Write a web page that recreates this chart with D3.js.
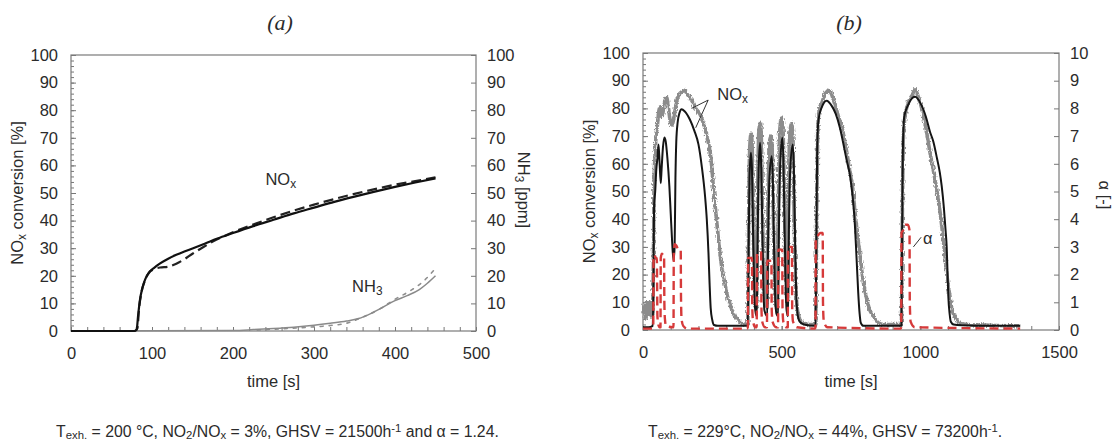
<!DOCTYPE html>
<html>
<head>
<meta charset="utf-8">
<script src="https://cdn.jsdelivr.net/npm/d3@7"></script>
<style>
  html, body { margin: 0; padding: 0; background: #fff; }
  svg { display: block; }
  text { font-family: "Liberation Sans", Arial, Helvetica, sans-serif; fill: #2b2b2b; }
  .tick line { stroke: #777; }
  .domain { display: none; }
</style>
</head>
<body>
<script>
// ---------- Panel (a): NOx conversion and NH3 slip, time in s ----------
const noxModelA = [[0,0],[78,0],[81,0.5],[83,6],[85,11],[88,15.5],[92,19],[97,21.5],[103,23],[110,24.5],[120,26.2],[130,27.6],[140,28.8],[150,29.9],[165,31.6],[180,33.4],[200,35.5],[225,38],[250,40.3],[275,42.6],[300,44.7],[325,46.8],[350,48.7],[375,50.5],[400,52.2],[425,53.8],[450,55.3]];
const noxMeasA = [[0,0],[79,0],[82,1],[84,8],[87,14],[91,18],[96,21],[103,22.5],[110,23],[120,23.3],[130,24.4],[140,26],[150,28],[160,29.8],[175,32.4],[200,35.8],[225,38.6],[250,41.2],[275,43.6],[300,45.8],[325,47.8],[350,49.7],[375,51.4],[400,53],[425,54.3],[450,55.7]];
const nh3ModelA = [[0,0],[200,0.2],[225,0.5],[250,0.9],[275,1.4],[300,2.1],[320,2.8],[340,3.6],[355,4.5],[370,6.3],[385,8.6],[400,11],[415,12.8],[430,15],[440,17.3],[450,20]];
const nh3MeasA = [[230,0.3],[260,0.8],[290,1.3],[320,2],[340,2.8],[360,5],[380,7.8],[400,11.5],[420,14.8],[435,18],[448,22]];

// ---------- Panel (b): NOx conversion and alpha, time in s ----------
const noxMeasB = [[0,6],[5,9],[10,4],[15,10],[20,6],[25,10],[30,5],[35,8],[38,30],[40,55],[43,62],[47,70],[52,74],[57,79],[61,80.5],[66,77],[71,78],[77,82],[85,84],[92,80],[99,75],[105,74],[112,77],[120,82],[130,85],[140,86],[150,86.5],[160,85],[175,83],[190,80],[205,78],[220,74],[235,68],[245,62],[255,50],[265,40],[275,30],[285,22],[295,17],[305,12],[315,9],[325,6],[340,4],[355,2.5],[370,2],[378,2],
  [381,40],[385,66],[390,71],[394,65],[398,40],[402,20],[406,10],[410,8],[413,45],[418,72],[423,75],[427,68],[431,40],[436,18],[441,10],[447,8],[450,40],[456,68],[462,70],[467,62],[471,35],[476,15],[482,8],[488,45],[493,72],[500,76.5],[505,72],[510,45],[515,20],[520,10],[524,45],[529,70],[536,74.5],[541,68],[545,40],[550,18],[556,8],[565,4],[580,2.5],[600,2],[620,2],
  [623,2],[626,40],[630,72],[636,80],[645,82],[655,85],[665,86.5],[675,86],[690,82],[705,77],[720,72],[735,64],[745,58],[755,52],[765,42],[775,33],[785,25],[795,17],[805,12],[815,8],[830,5],[850,2.5],[870,2],[900,2],[930,2],
  [932,2],[935,40],[940,72],[948,79],[960,83],[972,85],[981,87],[990,85],[1005,80],[1020,73],[1035,64],[1050,56],[1065,47],[1078,37],[1089,26.5],[1098,18],[1107,12],[1115,7],[1125,4.8],[1143,2.4],[1170,2],[1250,1.7],[1360,1.5]];
const noxModelB = [[0,1],[20,1],[35,1.5],[38,20],[40,45],[44,50],[48,58],[52,62],[56,67],[60,60],[64,53],[67,58],[72,66],[77,69.5],[82,68],[88,62],[95,52],[100,42],[105,32],[110,25],[114,30],[117,55],[120,68],[125,75],[132,78.5],[139,79.7],[150,79],[169,76],[185,72],[200,67],[212,59],[224,48],[230,40],[236,28],[240,17],[244,8],[250,3.5],[256,1.8],[270,1.5],[370,1.5],
  [378,1.5],[381,30],[384,55],[389,64],[393,58],[397,35],[401,15],[405,7],[410,5],[413,30],[417,58],[422,67.6],[426,60],[430,38],[434,16],[438,7],[448,5],[451,30],[456,55],[464,62.7],[468,55],[472,33],[476,14],[481,6],[487,5],[490,35],[495,60],[502,69.4],[506,62],[510,40],[514,18],[518,7],[523,5],[526,35],[531,58],[540,67],[544,58],[548,35],[552,15],[557,6],[565,3],[580,2],[620,1.5],
  [622,1.5],[625,30],[628,65],[633,76],[645,80.5],[662,82.8],[680,81],[695,78],[710,73],[725,66],[735,61],[746,56],[756,48],[764,38],[770,26],[776,13.6],[781,6],[785,2.7],[795,1.5],[930,1.5],
  [932,1.5],[934,30],[937,65],[942,77],[955,81],[981,84.2],[1000,82],[1020,77],[1035,71.5],[1047,68],[1060,62],[1070,57],[1077,52],[1085,44],[1091,36],[1095,30],[1098,21],[1101,12],[1106,5.5],[1110,3],[1120,2],[1150,1.7],[1250,1.5],[1360,1.5]];
const alphaB = [[0,0.05],[35,0.05],[37,0.1],[38,2.5],[41,2.7],[46,2.6],[50,2.6],[51,1.5],[52,0.5],[55,0.2],[60,0.1],[63,0.1],[64,2.6],[68,2.75],[74,2.7],[76,2.7],[77,1],[79,0.4],[83,0.15],[108,0.1],[110,0.1],[111,2.8],[115,3.1],[120,3.05],[128,2.9],[136,2.9],[137,1.2],[139,0.4],[145,0.15],[160,0.05],[375,0.05],
  [378,0.1],[379,2.6],[385,2.6],[393,2.6],[394,0.8],[397,0.3],[405,0.1],[410,0.1],[411,2.8],[418,2.8],[426,2.8],[427,0.8],[430,0.3],[440,0.1],[447,0.1],[448,2.5],[455,2.5],[463,2.5],[464,0.8],[467,0.3],[480,0.1],[487,0.1],[488,2.9],[495,2.9],[502,2.9],[503,0.8],[506,0.3],[515,0.1],[522,0.1],[523,3.0],[530,3.0],[537,3.0],[538,0.8],[541,0.3],[555,0.1],[620,0.05],
  [622,0.1],[623,3.3],[630,3.4],[640,3.5],[648,3.5],[649,1],[652,0.3],[665,0.1],[930,0.05],
  [931,0.1],[932,3.5],[938,3.6],[945,3.8],[955,3.8],[961,3.6],[962,1],[965,0.3],[980,0.1],[1360,0.05]];

// Axis tick values
const xTicksA = [0,100,200,300,400,500];
const xTicksB = [0,500,1000,1500];
const yTicksPct = d3.range(0, 101, 10);
const yTicksNH3 = d3.range(0, 101, 10);
const yTicksAlpha = d3.range(0, 11, 1);

const FS = 16.5;

const svg = d3.select("body").append("svg").attr("width", 1115).attr("height", 442);

// grainy edge for the measured trace
const defs = svg.append("defs");
const f = defs.append("filter").attr("id", "grain").attr("x", "-5%").attr("y", "-5%").attr("width", "110%").attr("height", "110%");
f.append("feTurbulence").attr("type", "fractalNoise").attr("baseFrequency", "0.9 0.35").attr("numOctaves", 2).attr("seed", 3).attr("result", "n");
f.append("feDisplacementMap").attr("in", "SourceGraphic").attr("in2", "n").attr("scale", 4).attr("xChannelSelector", "R").attr("yChannelSelector", "G");

// Writes text made of plain, subscript and superscript parts
function rich(sel, parts) {
  parts.forEach(([s, kind]) => {
    const t = sel.append("tspan").text(s);
    if (kind === "sub") t.attr("baseline-shift", "-22%").attr("font-size", "72%");
    if (kind === "sup") t.attr("baseline-shift", "45%").attr("font-size", "72%");
  });
  return sel;
}

function panel(o) {
  const g = svg.append("g");
  const x = d3.scaleLinear().domain(o.xDomain).range([o.left, o.right]);
  const yL = d3.scaleLinear().domain([0, 100]).range([o.bottom, o.top]);
  const yR = d3.scaleLinear().domain(o.yRDomain).range([o.bottom, o.top]);

  // minor ticks on the left axis
  g.append("g").attr("transform", `translate(${o.left},0)`)
    .call(d3.axisLeft(yL).tickValues(d3.range(0, 101, 2)).tickSizeInner(-3).tickSizeOuter(0).tickFormat(""));
  // major left axis
  g.append("g").attr("transform", `translate(${o.left},0)`)
    .call(d3.axisLeft(yL).tickValues(yTicksPct).tickSizeInner(-5).tickSizeOuter(0).tickPadding(13))
    .selectAll("text").attr("font-size", FS);
  // right axis
  g.append("g").attr("transform", `translate(${o.right},0)`)
    .call(d3.axisRight(yR).tickValues(o.yRTicks).tickSizeInner(-5).tickSizeOuter(0).tickPadding(11))
    .selectAll("text").attr("font-size", FS);
  // bottom minor ticks
  g.append("g").attr("transform", `translate(0,${o.bottom})`)
    .call(d3.axisBottom(x).tickValues(o.xMinor).tickSizeInner(-4).tickSizeOuter(0).tickFormat(""));
  // bottom axis labels
  g.append("g").attr("transform", `translate(0,${o.bottom})`)
    .call(d3.axisBottom(x).tickValues(o.xTicks).tickFormat(d3.format("d")).tickSizeInner(-4).tickSizeOuter(0).tickPadding(16))
    .selectAll("text").attr("font-size", FS);

  // frame
  g.append("rect").attr("x", o.left).attr("y", o.top)
    .attr("width", o.right - o.left).attr("height", o.bottom - o.top)
    .attr("fill", "none").attr("stroke", "#7a7a7a").attr("stroke-width", 1.2);

  // axis titles
  rich(g.append("text")
    .attr("transform", `translate(${o.left - 48},${(o.top + o.bottom) / 2}) rotate(-90)`)
    .attr("text-anchor", "middle").attr("font-size", FS),
    [["NO"], ["x", "sub"], [" conversion  [%]"]]);
  rich(g.append("text")
    .attr("transform", `translate(${o.right + o.rTitleDx},${o.rTitleY}) rotate(90)`)
    .attr("text-anchor", "middle").attr("font-size", FS), o.rTitle);
  g.append("text").attr("x", (o.left + o.right) / 2).attr("y", 387)
    .attr("text-anchor", "middle").attr("font-size", FS).text("time [s]");

  // panel letter
  g.append("text").attr("x", o.letterX).attr("y", 30).attr("text-anchor", "middle")
    .attr("font-style", "italic").attr("font-size", 22).style("font-family", "'Liberation Serif', 'Times New Roman', serif")
    .text(o.letter);

  // caption
  rich(g.append("text").attr("x", o.capX).attr("y", 437).attr("font-size", 15.8), o.caption);

  return { g, x, yL, yR };
}

const A = panel({
  left: 71, right: 476, top: 55, bottom: 331,
  xDomain: [0, 500], xTicks: xTicksA, xMinor: d3.range(0, 501, 20),
  yRDomain: [0, 100], yRTicks: yTicksNH3,
  rTitle: [["NH"], ["3", "sub"], [" [ppm]"]], rTitleDx: 42, rTitleY: 190,
  letter: "(a)", letterX: 280,
  capX: 56,
  caption: [["T"], ["exh.", "sub"], [" = 200 °C, NO"], ["2", "sub"], ["/NO"], ["x", "sub"], [" = 3%, GHSV = 21500h"], ["-1", "sup"], [" and α = 1.24."]]
});

const B = panel({
  left: 643, right: 1059, top: 53, bottom: 330,
  xDomain: [0, 1500], xTicks: xTicksB, xMinor: d3.range(0, 1501, 100),
  yRDomain: [0, 10], yRTicks: yTicksAlpha,
  rTitle: [["α [-]"]], rTitleDx: 40, rTitleY: 195,
  letter: "(b)", letterX: 849,
  capX: 648,
  caption: [["T"], ["exh.", "sub"], [" = 229°C, NO"], ["2", "sub"], ["/NO"], ["x", "sub"], [" = 44%, GHSV = 73200h"], ["-1", "sup"], ["."]]
});

function drawLine(P, data, y, style) {
  const line = d3.line().x(d => P.x(d[0])).y(d => y(d[1])).curve(d3.curveMonotoneX);
  P.g.append("path").datum(data).attr("d", line).attr("fill", "none")
    .attr("stroke", style.color).attr("stroke-width", style.width)
    .attr("stroke-dasharray", style.dash || null)
    .attr("filter", style.filter || null)
    .attr("stroke-linejoin", "round").attr("stroke-linecap", style.cap || "butt");
}

// Panel (a) curves
drawLine(A, nh3MeasA, A.yR, { color: "#8f8f8f", width: 1.6, dash: "3,6", cap: "round" });
drawLine(A, nh3ModelA, A.yR, { color: "#8a8a8a", width: 1.5 });
drawLine(A, noxMeasA, A.yL, { color: "#222", width: 2.2, dash: "10,5" });
drawLine(A, noxModelA, A.yL, { color: "#111", width: 2.2 });

// Panel (b) curves
drawLine(B, noxMeasB, B.yL, { color: "#8c8c8c", width: 3.6, filter: "url(#grain)" });
drawLine(B, noxModelB, B.yL, { color: "#151515", width: 2 });
drawLine(B, alphaB, B.yR, { color: "#d63a3a", width: 2.4, dash: "9,5" });

// Annotations (a)
rich(A.g.append("text").attr("x", A.x(240)).attr("y", A.yL(53)).attr("font-size", FS), [["NO"], ["x", "sub"]]);
rich(A.g.append("text").attr("x", A.x(347)).attr("y", A.yR(14)).attr("font-size", FS), [["NH"], ["3", "sub"]]);

// Annotations (b)
rich(B.g.append("text").attr("x", B.x(268)).attr("y", B.yL(83)).attr("font-size", FS), [["NO"], ["x", "sub"]]);
B.g.append("path").attr("fill", "none").attr("stroke", "#333").attr("stroke-width", 1)
  .attr("d", `M${B.x(175)},${B.yL(80)} L${B.x(235)},${B.yL(83)} L${B.x(190)},${B.yL(73)}`);
B.g.append("text").attr("x", B.x(1010)).attr("y", B.yR(3.1)).attr("font-size", FS).text("α");
B.g.append("path").attr("fill", "none").attr("stroke", "#333").attr("stroke-width", 1)
  .attr("d", `M${B.x(1003)},${B.yR(3.35)} L${B.x(975)},${B.yR(3.0)}`);
</script>
</body>
</html>
